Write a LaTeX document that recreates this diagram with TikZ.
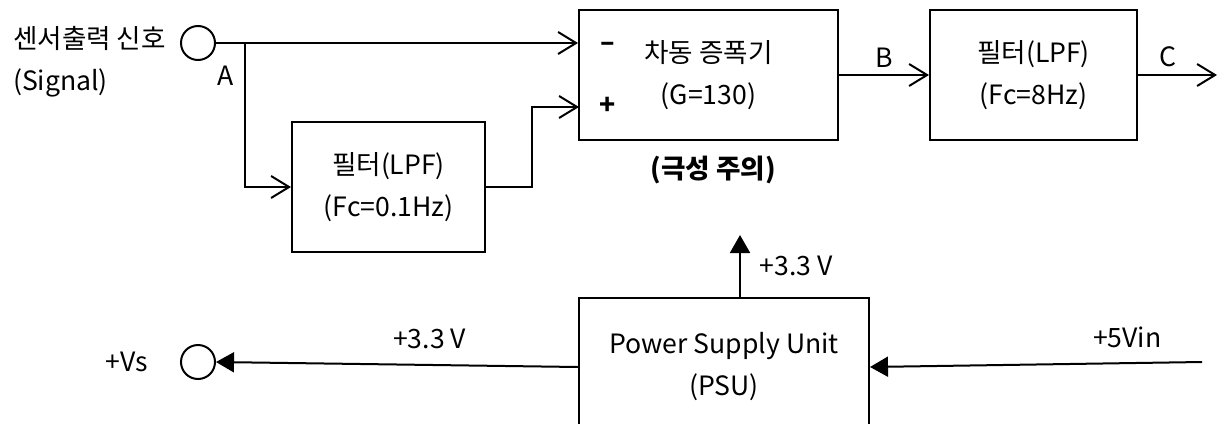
\documentclass[tikz,border=0pt]{standalone}
\usepackage{fontspec}
\setmainfont{Noto Sans CJK KR}
\usetikzlibrary{arrows.meta}

\begin{document}
\begin{tikzpicture}[
  x=0.5pt, y=-0.5pt,
  every node/.style={font=\fontsize{13.3}{21}\selectfont},
  box/.style={draw, line width=1pt, minimum width=#1, minimum height=65pt, align=center, inner sep=0pt},
  term/.style={draw, circle, line width=1pt, minimum size=17pt, inner sep=0pt},
  arr/.style={line width=1pt, -{Straight Barb[length=9pt, width=11pt]}},
  farr/.style={line width=1pt, -{Triangle[length=9pt, width=10pt]}},
  sgn/.style={font=\fontsize{13.3}{21}\selectfont\bfseries}
]
\useasboundingbox (0,0) rectangle (1219,423);
\clip (0,0) rectangle (1219,423);

% signal path
\node[term] (sig) at (198,43) {};
\node[anchor=west, align=left] (siglbl) at (6,62) {센서출력 신호\\(Signal)};
\node[box=129.5pt] (amp) at (708.5,75) {차동 증폭기\\(G=130)};
\node[box=96.5pt] (filt1) at (388.5,187) {필터(LPF)\\(Fc=0.1Hz)};
\node[box=103.5pt] (filt2) at (1033.5,75) {필터(LPF)\\(Fc=8Hz)};
\node[sgn] (neg) at (608,47) {–};
\node[sgn] (pos) at (608,106) {+};
\node[sgn] (warn) at (713,170) {(극성 주의)};
\coordinate (brA) at (245,43);
\coordinate (ampP) at (579,107);
\coordinate (outC) at (1217,75);
\node (lblA) at (226,76) {A};

\draw[arr] (sig.east) -- (sig.east -| amp.west);
\draw[arr] (brA) |- (filt1.west);
\draw[arr] (filt1.east) -- ++(46,0) |- (ampP);
\draw[arr] (amp.east) -- node[above] {B} (filt2.west);
\draw[arr] (filt2.east) -- node[above, pos=0.38] {C} (outC);

% power
\node[box=145pt, minimum height=69pt] (psu) at (724,367) {Power Supply Unit\\(PSU)};
\node[term] (vs) at (198,362) {};
\node (vslbl) at (127,362) {+Vs};
\coordinate (vup) at (740,235);
\coordinate (vin) at (1202,362);
\draw[farr] (psu.north -| vup) -- node[right, pos=0.5, xshift=6pt] {+3.3 V} (vup);
\draw[farr] (psu.west) -- node[above, pos=0.41, yshift=4pt] {+3.3 V} (vs.east);
\draw[farr] (vin) -- node[above, pos=0.225, yshift=4pt] {+5Vin} (psu.east);
\end{tikzpicture}
\end{document}
